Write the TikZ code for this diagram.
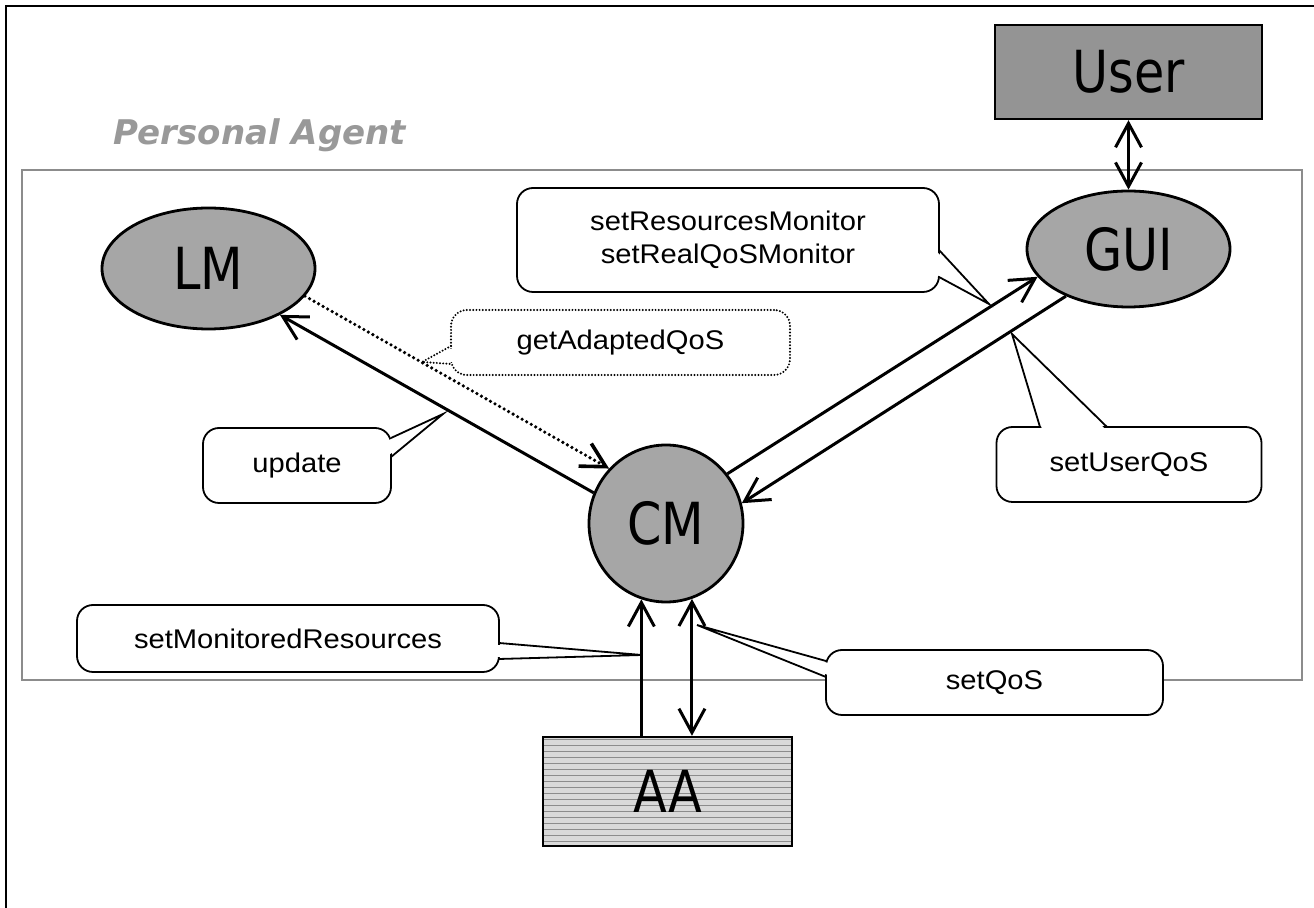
\documentclass[tikz,border=0pt]{standalone}
\usepackage{fontspec}
\setmainfont{Liberation Sans}
\newfontfamily\calloutfont[FakeStretch=1.08]{Liberation Sans}
\newfontfamily\bigfont[FakeStretch=0.85]{DejaVu Sans}
\newfontfamily\titlefont{DejaVu Sans}
\usetikzlibrary{shapes.geometric,arrows.meta,patterns}

\begin{document}
\begin{tikzpicture}[x=0.5pt,y=-0.5pt,
  comp/.style={draw=black, line width=1.4pt, inner sep=0pt,
    font=\bigfont\fontsize{29}{32}\selectfont},
  ellcomp/.style={comp, ellipse, fill=black!35},
  boxcomp/.style={comp, rectangle, line width=1.2pt},
  callbox/.style={draw=black, line width=0.9pt, fill=white, rounded corners=8pt,
    inner sep=0pt, align=center, font=\calloutfont\fontsize{13.5}{16.5}\selectfont},
  dotbox/.style={callbox, line width=1.1pt, line cap=round, dash pattern=on 0pt off 1.6pt},
  pointer/.style={draw=black, line width=0.9pt, line join=miter},
  tip/.tip={Straight Barb[length=12pt,width=13pt]},
  link/.style={line width=1.5pt, -tip},
  twoway/.style={line width=1.5pt, tip-tip},
  dotlink/.style={line width=1.8pt, line cap=round, dash pattern=on 0pt off 2.6pt, -tip},
]
\useasboundingbox (0,0) rectangle (1314,908);
\fill[white] (0,0) rectangle (1314,908);

% outer frame
\draw[line width=1pt] (1314,6) -- (6,6) -- (6,908);

% Personal Agent boundary and title
\draw[black!45, line width=1.3pt] (22,170) rectangle (1302,680);
\node[font=\titlefont\bfseries\itshape\fontsize{17}{20}\selectfont, text=black!40,
  anchor=base, inner sep=0pt] (patitle) at (260,145) {Personal Agent};

% callouts
\node[callbox, minimum width=211pt, minimum height=52pt] (crm) at (728,240)
  {setResourcesMonitor\\setRealQoSMonitor};
\coordinate (crmtip) at (989,304);
\fill[white] (937,252) -- (crmtip) -- (937,275) -- cycle;
\draw[pointer] (939,250) -- (crmtip) -- (939,277);

\node[dotbox, minimum width=169.5pt, minimum height=32.5pt] (cadq) at (620.5,342.5)
  {getAdaptedQoS};
\coordinate (cadqtip) at (422,362);
\fill[white] (453,348) -- (cadqtip) -- (453,362) -- cycle;
\draw[pointer, line width=1.1pt, line cap=round, dash pattern=on 0pt off 1.6pt] (451,346) -- (cadqtip) -- (452,364);

\node[callbox, minimum width=94pt, minimum height=37.5pt] (cupd) at (297,465.5)
  {update};
\coordinate (cupdtip) at (443,414);
\fill[white] (389,440) -- (cupdtip) -- (389,455) -- cycle;
\draw[pointer] (391,438) -- (cupdtip) -- (391,457);

\node[callbox, minimum width=132.5pt, minimum height=37.5pt] (cuq) at (1129,464.5)
  {setUserQoS};
\coordinate (cuqtip) at (1012,334);
\fill[white] (1042,429) -- (cuqtip) -- (1105,429) -- cycle;
\draw[pointer] (1040,427) -- (cuqtip) -- (1107,427);

\node[callbox, minimum width=211pt, minimum height=33.5pt] (cmr) at (288,638.5)
  {setMonitoredResources};
\coordinate (cmrtip) at (642,655);
\fill[white] (497,645) -- (cmrtip) -- (497,657) -- cycle;
\draw[pointer] (499,643) -- (cmrtip) -- (499,659);

\node[callbox, minimum width=168.5pt, minimum height=32.5pt] (cqos) at (994.5,682.5)
  {setQoS};
\coordinate (cqostip) at (697,625);
\fill[white] (828,663) -- (cqostip) -- (828,675) -- cycle;
\draw[pointer] (826,661) -- (cqostip) -- (826,677);

% components
\node[boxcomp, fill=black!42, minimum width=133.5pt, minimum height=47pt] (user) at (1128.5,72) {User};
\node[ellcomp, minimum width=101.5pt, minimum height=58pt] (gui) at (1128.5,249) {GUI};
\node[ellcomp, minimum width=106.5pt, minimum height=60.5pt] (lm) at (208.5,268.5) {LM};
\node[ellcomp, minimum width=77pt, minimum height=78.5pt] (cm) at (666,523.5) {CM};
\node[boxcomp, preaction={fill=black!15}, pattern=horizontal lines, pattern color=black!45,
  minimum width=124.5pt, minimum height=54.5pt] (aa) at (667.5,791.5) {AA};

% interactions
\draw[twoway] (user.south) -- (gui.north);
\draw[link] (cm.157) -- (lm.-33);
\draw[dotlink] (lm.-16) -- (cm.136);
\draw[link] (cm.39) -- (gui.197);
\draw[link] (gui.217) -- (cm.15);
\draw[link] (aa.north -| cm.252) -- (cm.252);
\draw[twoway] (cm.289) -- (aa.north -| cm.289);
\end{tikzpicture}
\end{document}
